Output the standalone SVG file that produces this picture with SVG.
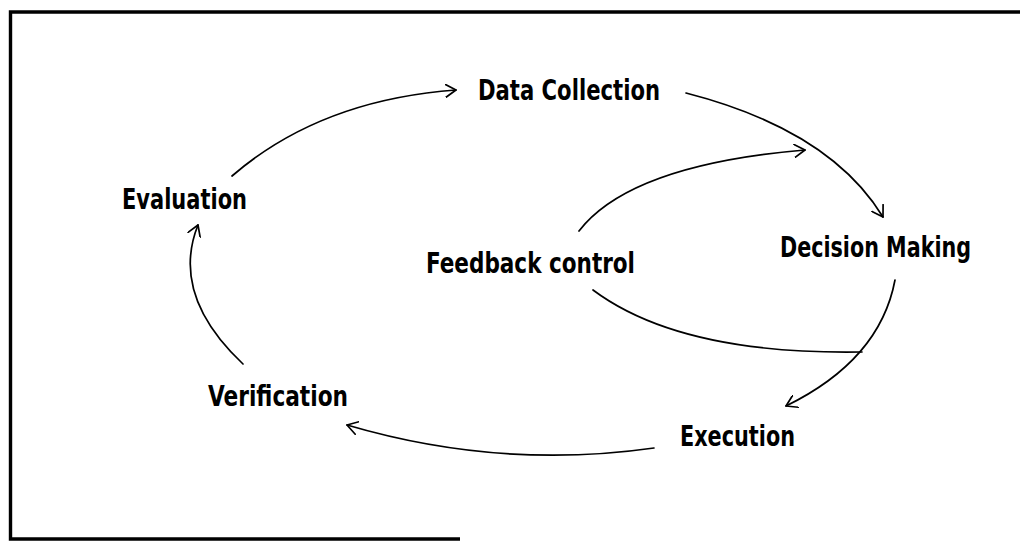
<svg xmlns="http://www.w3.org/2000/svg" width="1020" height="542" viewBox="0 0 1020 542">
  <style>
    .lbl { font-family: "DejaVu Sans Condensed", "DejaVu Sans", "Liberation Sans", sans-serif; font-weight: bold; font-size: 29px; fill: #000; }
    .edge { fill: none; stroke: #000; stroke-width: 1.7; stroke-linecap: round; }
    .frame { fill: none; stroke: #000; stroke-width: 3.4; }
  </style>
  <defs>
    <marker id="arrow" viewBox="0 0 12 14" refX="11" refY="7" markerWidth="12" markerHeight="14" markerUnits="userSpaceOnUse" orient="auto">
      <path d="M0.5,0.5 L11,7 L0.5,13.5" fill="none" stroke="#000" stroke-width="1.7" stroke-linecap="round" stroke-linejoin="round"/>
    </marker>
  </defs>
  <rect width="1020" height="542" fill="#fff"/>
  <g id="frame">
    <path class="frame" d="M1020,12 L10.5,12 L10.5,539 L460,539"/>
  </g>
  <g id="connectors">
    <path class="edge" d="M232,176 Q320,100 456,90" marker-end="url(#arrow)"/>
    <path class="edge" d="M686,93 Q830,130 883,217" marker-end="url(#arrow)"/>
    <path class="edge" d="M579,231 Q630,165 805,150" marker-end="url(#arrow)"/>
    <path class="edge" d="M895,280 Q880,360 786,406" marker-end="url(#arrow)"/>
    <path class="edge" d="M593,290 Q680,355 862,352"/>
    <path class="edge" d="M654,448 Q500,470 347,425" marker-end="url(#arrow)"/>
    <path class="edge" d="M243,364 Q170,295 198,225" marker-end="url(#arrow)"/>
  </g>
  <g id="data-collection"><text class="lbl" x="478" y="100" textLength="182" lengthAdjust="spacingAndGlyphs">Data Collection</text></g>
  <g id="evaluation"><text class="lbl" x="122" y="209" textLength="125" lengthAdjust="spacingAndGlyphs">Evaluation</text></g>
  <g id="feedback-control"><text class="lbl" x="426" y="273" textLength="209" lengthAdjust="spacingAndGlyphs">Feedback control</text></g>
  <g id="decision-making"><text class="lbl" x="780" y="257" textLength="191" lengthAdjust="spacingAndGlyphs">Decision Making</text></g>
  <g id="verification"><text class="lbl" x="208" y="406" textLength="140" lengthAdjust="spacingAndGlyphs">Verification</text></g>
  <g id="execution"><text class="lbl" x="680" y="446" textLength="115" lengthAdjust="spacingAndGlyphs">Execution</text></g>
</svg>
